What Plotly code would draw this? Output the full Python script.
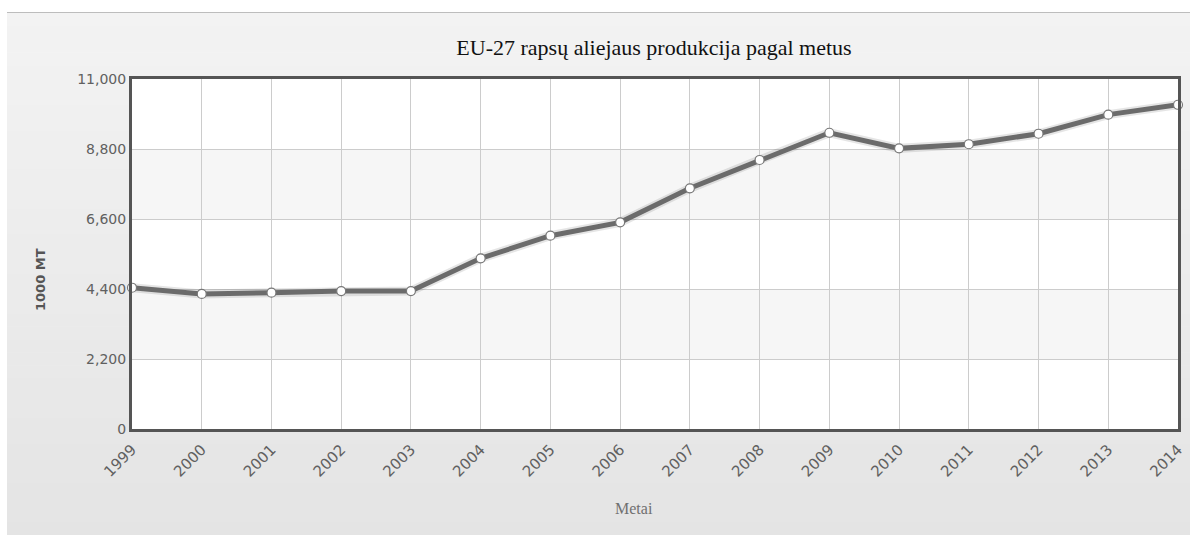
import plotly.graph_objects as go

years = list(range(1999, 2015))
production = [4440, 4245, 4285, 4335, 4335, 5365, 6075, 6495, 7565, 8455,
              9310, 8820, 8950, 9280, 9880, 10190]
y_ticks = [0, 2200, 4400, 6600, 8800, 11000]
title_text = "EU-27 rapsų aliejaus produkcija pagal metus"
x_title = "Metai"
y_title = "1000 MT"

W, H = 1190, 535
L, R, T, B = 132, 12, 79, 106
PW, PH = W - L - R, H - T - B


def px(xp):
    return (xp - L) / PW


def py(yp):
    return (H - B - yp) / PH


shapes = []
# gradient background strips (paper coords)
n = 40
top, bot = 13, 535
c0, c1 = 243, 228
for i in range(n):
    y0 = top + (bot - top) * i / n
    y1 = top + (bot - top) * (i + 1) / n
    c = round(c0 + (c1 - c0) * (i + 0.5) / n)
    shapes.append(dict(type="rect", xref="paper", yref="paper",
                       x0=px(7), x1=px(W), y0=py(y1 + 0.5), y1=py(y0),
                       fillcolor=f"rgb({c},{c},{c})", line=dict(width=0),
                       layer="below"))
shapes.append(dict(type="line", xref="paper", yref="paper",
                   x0=px(7), x1=px(W), y0=py(12.5), y1=py(12.5),
                   line=dict(color="#bdbdbd", width=1), layer="below"))
# white plot area
shapes.append(dict(type="rect", xref="paper", yref="paper",
                   x0=0, x1=1, y0=0, y1=1, fillcolor="white",
                   line=dict(width=0), layer="below"))
# alternating plot bands
for i in range(len(y_ticks) - 1):
    if i % 2 == 1:
        shapes.append(dict(type="rect", xref="x domain", yref="y",
                           x0=0, x1=1, y0=y_ticks[i], y1=y_ticks[i + 1],
                           fillcolor="#f6f6f6", line=dict(width=0),
                           layer="below"))

fig = go.Figure()
fig.add_trace(go.Scatter(
    x=years, y=production, mode="lines",
    line=dict(color="rgba(0,0,0,0.10)", width=9),
    hoverinfo="skip", cliponaxis=False, showlegend=False))
fig.add_trace(go.Scatter(
    x=years, y=production, mode="lines+markers",
    line=dict(color="#6b6b6b", width=5),
    marker=dict(size=9, color="white", line=dict(color="#777777", width=1.2)),
    cliponaxis=False, showlegend=False))

fig.update_layout(
    width=W, height=H,
    margin=dict(l=L, r=R, t=T, b=B, autoexpand=False),
    paper_bgcolor="white",
    plot_bgcolor="rgba(0,0,0,0)",
    shapes=shapes,
    title=dict(text=title_text, x=px(654), xref="paper", xanchor="center",
               y=1 - 47 / H, yanchor="middle",
               font=dict(family="Liberation Serif", size=22, color="#111111")),
    xaxis=dict(range=[years[0], years[-1]], tickmode="array", tickvals=years,
               ticktext=[str(v) for v in years], tickangle=-45,
               tickfont=dict(family="DejaVu Sans", size=15, color="#606060"),
               showgrid=True, gridcolor="#cccccc",
               gridwidth=1, zeroline=False, showline=True, linecolor="#555555",
               linewidth=3, mirror=True, ticks="outside", ticklen=3,
               tickcolor="rgba(0,0,0,0)", automargin=False),
    yaxis=dict(range=[0, 11000], tickmode="array", tickvals=y_ticks,
               ticktext=[f"{v:,}" for v in y_ticks],
               tickfont=dict(family="DejaVu Sans", size=14, color="#606060"),
               showgrid=True, gridcolor="#cccccc",
               gridwidth=1, zeroline=False, showline=True, linecolor="#555555",
               linewidth=3, mirror=True, ticks="", automargin=False),
    annotations=[
        dict(text=y_title, xref="paper", yref="paper", x=px(40), y=py(280),
             textangle=-90, showarrow=False, xanchor="center", yanchor="middle",
             font=dict(family="DejaVu Sans", size=13, color="#555555",
                       weight="bold")),
        dict(text=x_title, xref="paper", yref="paper", x=px(634), y=py(508),
             showarrow=False, xanchor="center", yanchor="middle",
             font=dict(family="Liberation Serif", size=16, color="#707070")),
    ],
)

fig.write_html("out.html")
